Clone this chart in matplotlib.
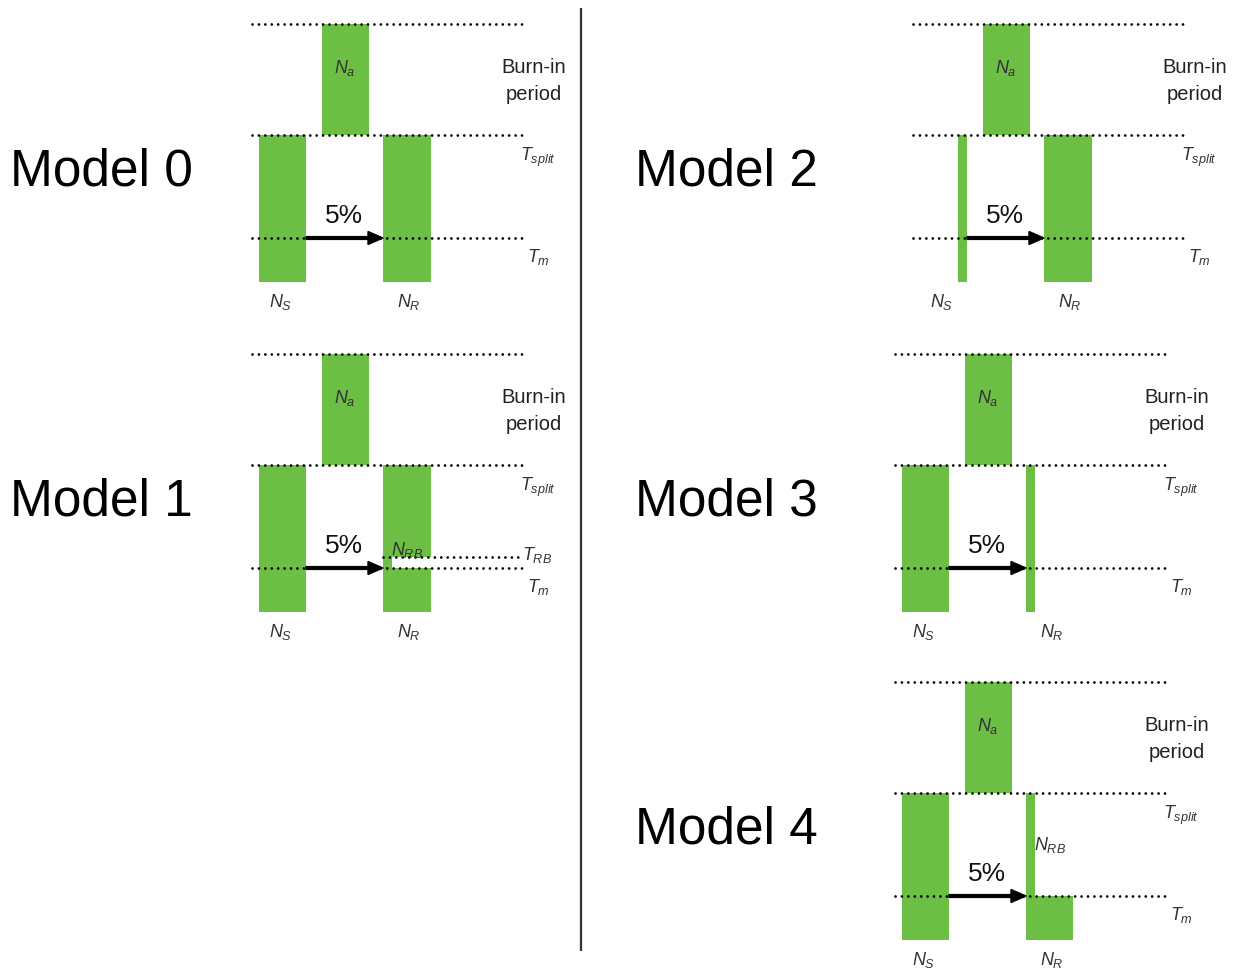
import matplotlib
matplotlib.use("Agg")
import matplotlib.pyplot as plt

plt.rcParams['font.family'] = ['Liberation Sans', 'DejaVu Sans']
plt.rcParams['mathtext.fontset'] = 'custom'
plt.rcParams['mathtext.rm'] = 'Liberation Sans'
plt.rcParams['mathtext.it'] = 'Liberation Sans:italic'

""
MODELS = ["Model 0", "Model 1", "Model 2", "Model 3", "Model 4"]
TITLE_X = [10, 10, 635, 635, 635]
PANEL_X = [252, 252, 913, 895, 895]   # left end of the dotted lines
PANEL_Y = [25, 355, 25, 355, 683]     # top of the burn-in period

# times, measured down from the top of each panel
T_SPLIT = 111
T_M = 214
T_END = 258
T_RB = [None, 203, None, None, None]

# population sizes drawn as bar widths
NA_WIDTH = 47
NS_WIDTH = [47, 47, 9, 47, 47]
NR_SEGMENTS = [
    [(T_SPLIT, T_END, 48)],
    [(T_SPLIT, 203, 48), (203, T_M, 9), (T_M, T_END, 48)],
    [(T_SPLIT, T_END, 48)],
    [(T_SPLIT, T_END, 9)],
    [(T_SPLIT, T_M, 9), (T_M, T_END, 47)],
]
NRB_LABEL_Y = [None, 195, None, None, 162]
MIGRATION = "5%"
LINE_LEN = 270

GREEN = "#6cbe45"
DOT = (0, (0.01, 2.3))
LABEL_COL = "#333333"
LABEL_SIZE = 13


def dotted(ax, y, x1, x2):
    ax.hlines(y, x1, x2, colors="black", linewidth=2, linestyles=DOT,
              capstyle="round", zorder=3)


def draw_model(ax, i):
    x0 = PANEL_X[i]
    y0 = PANEL_Y[i]

    # ancestral population
    ax.bar(x0 + 70, T_SPLIT, width=NA_WIDTH, bottom=y0, align="edge",
           color=GREEN, zorder=1)
    # source population, right aligned
    ax.bar(x0 + 54 - NS_WIDTH[i], T_END - T_SPLIT, width=NS_WIDTH[i],
           bottom=y0 + T_SPLIT, align="edge", color=GREEN, zorder=1)
    # recipient population
    for start, end, w in NR_SEGMENTS[i]:
        ax.bar(x0 + 131, end - start, width=w, bottom=y0 + start,
               align="edge", color=GREEN, zorder=1)

    dotted(ax, y0, x0, x0 + LINE_LEN)
    dotted(ax, y0 + T_SPLIT, x0, x0 + LINE_LEN)
    dotted(ax, y0 + T_M, x0, x0 + LINE_LEN)
    if T_RB[i] is not None:
        dotted(ax, y0 + T_RB[i], x0 + 131, x0 + LINE_LEN)
        ax.text(x0 + 270, y0 + T_RB[i] - 3, r"$T_{RB}$", fontsize=LABEL_SIZE,
                color=LABEL_COL, ha="left", va="center")

    # migration pulse
    ax.arrow(x0 + 54, y0 + T_M, 77, 0, width=2.8, head_width=13,
             head_length=15, length_includes_head=True, color="black",
             zorder=4)
    ax.text(x0 + 92, y0 + 191, MIGRATION, fontsize=19, ha="center",
            va="center", color="#111111")

    ax.text(x0 + 93, y0 + 43, r"$N_a$", fontsize=LABEL_SIZE, ha="center",
            va="center", color=LABEL_COL)
    ax.text(x0 + 282, y0 + 56, "Burn-in\nperiod", fontsize=14.5, ha="center",
            va="center", linespacing=1.55, color="#222222")
    ax.text(x0 + 268, y0 + 132, r"$T_{split}$", fontsize=LABEL_SIZE,
            ha="left", va="center", color=LABEL_COL)
    ax.text(x0 + 275, y0 + 232, r"$T_m$", fontsize=LABEL_SIZE, ha="left",
            va="center", color=LABEL_COL)
    ax.text(x0 + 29, y0 + 277, r"$N_S$", fontsize=LABEL_SIZE, ha="center",
            va="center", color=LABEL_COL)
    ax.text(x0 + 157, y0 + 277, r"$N_R$", fontsize=LABEL_SIZE, ha="center",
            va="center", color=LABEL_COL)
    if NRB_LABEL_Y[i] is not None:
        ax.text(x0 + 155, y0 + NRB_LABEL_Y[i], r"$N_{RB}$",
                fontsize=LABEL_SIZE, ha="center", va="center",
                color=LABEL_COL, zorder=5)

    ax.text(TITLE_X[i], y0 + 147, MODELS[i], fontsize=37, ha="left",
            va="center", color="black")


def main():
    fig = plt.figure(figsize=(12.44, 9.70), dpi=100)
    ax = fig.add_axes([0, 0, 1, 1])
    ax.set_xlim(0, 1244)
    ax.set_ylim(970, 0)
    ax.axis("off")

    for i in range(len(MODELS)):
        draw_model(ax, i)

    # divider between the two columns
    ax.vlines(581, 9, 952, colors="#333333", linewidth=1.6)

    fig.savefig("out.png", dpi=100)


if __name__ == "__main__":
    main()
